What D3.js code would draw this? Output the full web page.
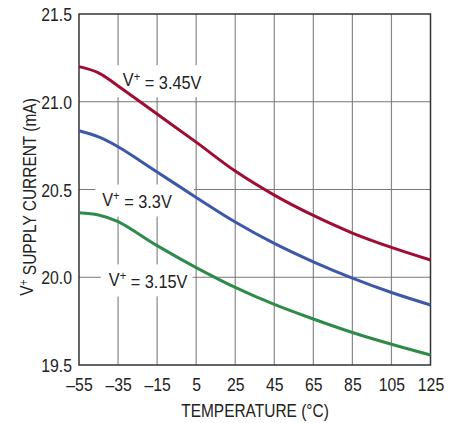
<!DOCTYPE html>
<html><head><meta charset="utf-8">
<script src="https://cdn.jsdelivr.net/npm/d3@7/dist/d3.min.js"></script>
<style>
html,body{margin:0;padding:0;background:#fff;}
text{font-family:"Liberation Sans",Arial,sans-serif;fill:#222;}
</style></head>
<body>
<svg id="c" width="461" height="423"></svg>
<script>
const temps = [-55, -45, -35, -15, 5, 25, 45, 65, 85, 105, 125];
const i345 = [21.20, 21.165, 21.09, 20.93, 20.77, 20.605, 20.468, 20.352, 20.252, 20.17, 20.098];
const i330 = [20.835, 20.80, 20.744, 20.60, 20.455, 20.315, 20.193, 20.088, 19.995, 19.913, 19.842];
const i315 = [20.368, 20.355, 20.317, 20.18, 20.055, 19.942, 19.845, 19.762, 19.685, 19.618, 19.557];
const seriesNames = ["3.45V", "3.3V", "3.15V"];
const xTicks = [-55, -35, -15, 5, 25, 45, 65, 85, 105, 125];
const yTicks = [19.5, 20.0, 20.5, 21.0, 21.5];

const W = 461, H = 423;
const m = {l: 79, t: 14, r: 30.5, b: 58};
const svg = d3.select("#c");
const x = d3.scaleLinear().domain([-55, 125]).range([m.l, W - m.r]);
const y = d3.scaleLinear().domain([19.5, 21.5]).range([H - m.b, m.t]);
const FS = 19;

function condense(sel, s) {
  sel.each(function() {
    const el = d3.select(this);
    const ax = +el.attr("x") || 0;
    const prev = el.attr("transform") || "";
    el.attr("transform", `${prev} translate(${ax},0) scale(${s},1) translate(${-ax},0)`);
  });
}

// grid
const grid = svg.append("g");
grid.selectAll("line.v").data(xTicks.slice(1, -1)).join("line")
  .attr("x1", d => x(d)).attr("x2", d => x(d)).attr("y1", y(19.5)).attr("y2", y(21.5))
  .attr("stroke", "#888").attr("stroke-width", 1.2);
grid.selectAll("line.h").data(yTicks.slice(1, -1)).join("line")
  .attr("x1", x(-55)).attr("x2", x(125)).attr("y1", d => y(d)).attr("y2", d => y(d))
  .attr("stroke", "#777").attr("stroke-width", 1.2);

// labels (white boxes hide grid)
const labels = [
  {name: seriesNames[0], t: -12.4, v: 21.125, padL: 9, padR: 6},
  {name: seriesNames[1], t: -25.3, v: 20.445, padL: 7, padR: 22},
  {name: seriesNames[2], t: -19.6, v: 19.99, padL: 8, padR: 5}
];
const lg = svg.append("g");
labels.forEach(L => {
  const g = lg.append("g");
  const rect = g.append("rect").attr("fill", "#fff");
  const t = g.append("text").attr("x", x(L.t)).attr("y", y(L.v)).attr("dy", "0.35em")
    .attr("text-anchor", "middle").style("font-size", FS + "px");
  t.append("tspan").text("V");
  t.append("tspan").attr("dy", "-0.42em").style("font-size", "13px").text("+");
  t.append("tspan").attr("dy", "0.42em").text(" = " + L.name);
  condense(t, 0.86);
  const bb = t.node().getBoundingClientRect();
  rect.attr("x", bb.x - L.padL).attr("y", bb.y - 4).attr("width", bb.width + L.padL + L.padR).attr("height", bb.height + 8);
});

// axes frame
svg.append("rect").attr("x", m.l).attr("y", m.t).attr("width", W - m.r - m.l).attr("height", H - m.b - m.t)
  .attr("fill", "none").attr("stroke", "#333").attr("stroke-width", 1.5);

// curves
const line = d3.line().x(d => x(d[0])).y(d => y(d[1])).curve(d3.curveCatmullRom.alpha(0.5));
const series = [
  {vals: i345, color: "#a00d33"},
  {vals: i330, color: "#3d58a8"},
  {vals: i315, color: "#2e8b4a"}
];
series.forEach(s => {
  svg.append("path").datum(temps.map((t, i) => [t, s.vals[i]]))
    .attr("d", line).attr("fill", "none").attr("stroke", s.color).attr("stroke-width", 3);
});

// axes ticks
const xAxis = d3.axisBottom(x).tickValues(xTicks).tickSize(0).tickPadding(0)
  .tickFormat(d => d < 0 ? "\u2013" + Math.abs(d) : String(d));
const gx = svg.append("g").attr("transform", `translate(0,${H - m.b})`).call(xAxis);
gx.select(".domain").remove();
gx.selectAll("text").attr("y", 26).attr("dy", 0).style("font-size", FS + "px").attr("fill", "#222");
condense(gx.selectAll("text"), 0.83);

const yAxis = d3.axisLeft(y).tickValues(yTicks).tickSize(0).tickPadding(0).tickFormat(d3.format(".1f"));
const gy = svg.append("g").attr("transform", `translate(${m.l},0)`).call(yAxis);
gy.select(".domain").remove();
gy.selectAll("text").attr("x", -7).attr("dy", "0.35em").style("font-size", FS + "px").attr("fill", "#222");
condense(gy.selectAll("text"), 0.83);

// titles
const xt = svg.append("text").attr("x", 255).attr("y", 417).attr("text-anchor", "middle")
  .style("font-size", "18px").text("TEMPERATURE (\u00B0C)");
condense(xt, 0.86);
const yt = svg.append("text").attr("transform", "translate(33,197) rotate(-90) scale(0.86,1)").attr("text-anchor", "middle")
  .style("font-size", "18px");
yt.append("tspan").text("V");
yt.append("tspan").attr("dy", "-0.42em").style("font-size", "12px").text("+");
yt.append("tspan").attr("dy", "0.42em").text(" SUPPLY CURRENT (mA)");
</script>
</body></html>
